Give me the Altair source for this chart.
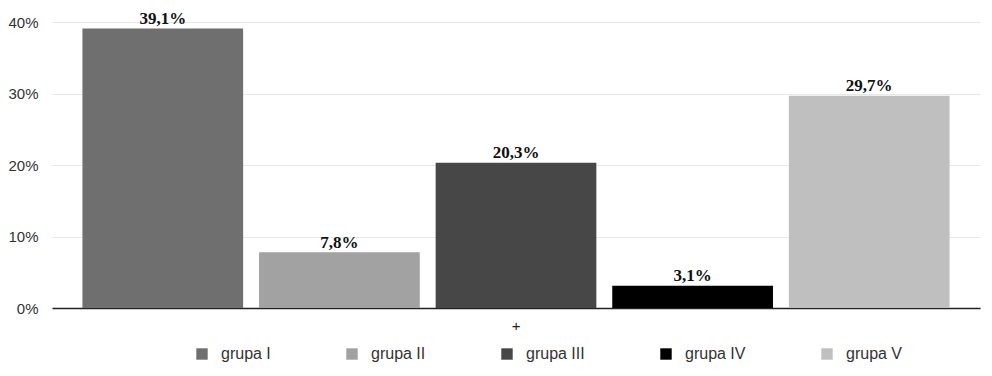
import altair as alt
import pandas as pd

groups = ["grupa I", "grupa II", "grupa III", "grupa IV", "grupa V"]
values = [39.1, 7.8, 20.3, 3.1, 29.7]
colors = ["#6f6f6f", "#a2a2a2", "#474747", "#000000", "#bfbfbf"]
category = "+"

df = pd.DataFrame({
    "cat": [category] * len(groups),
    "grupa": groups,
    "value": values,
    "label": [f"{v:.1f}".replace(".", ",") + "%" for v in values],
})

x = alt.X("cat:N", title=None,
          scale=alt.Scale(paddingInner=0, paddingOuter=0.0265),
          axis=alt.Axis(labelAngle=0, labelFont="Liberation Sans", labelFontSize=15,
                        labelColor="#222", labelPadding=10, ticks=False,
                        domainColor="#222", domainWidth=1.5))
xo = alt.XOffset("grupa:N", sort=groups,
                 scale=alt.Scale(paddingInner=0.09, paddingOuter=0.04))
y = alt.Y("value:Q", title=None,
          scale=alt.Scale(domain=[0, 40]),
          axis=alt.Axis(values=[0, 10, 20, 30, 40], labelExpr="datum.value + '%'",
                        labelFont="Liberation Sans", labelFontSize=15, labelColor="#333",
                        labelPadding=14, ticks=False, domain=False,
                        gridColor="#e8e8e8", gridWidth=1))

bars = alt.Chart(df).mark_bar().encode(
    x=x, xOffset=xo, y=y,
    color=alt.Color("grupa:N", sort=groups,
                    scale=alt.Scale(domain=groups, range=colors),
                    legend=alt.Legend(title=None, orient="none", direction="horizontal",
                                      legendX=142, legendY=324, padding=0,
                                      symbolType="square", symbolSize=130,
                                      symbolStrokeWidth=0, labelFont="Liberation Sans",
                                      labelFontSize=16, labelColor="#333",
                                      labelOffset=11, columnPadding=73)),
)

text = alt.Chart(df).mark_text(baseline="alphabetic", dy=-4.5, font="Liberation Serif",
                               fontWeight="bold", fontSize=17, color="#111").encode(
    x=alt.X("cat:N"), xOffset=alt.XOffset("grupa:N", sort=groups), y="value:Q",
    text="label:N",
)

chart = (bars + text).properties(
    width=928, height=286,
    autosize=alt.AutoSizeParams(type="none"),
    padding={"left": 44, "top": 14, "right": 4, "bottom": 60},
).configure_view(stroke=None)

chart.save("out.html", embed_options={"renderer": "svg", "actions": False})
